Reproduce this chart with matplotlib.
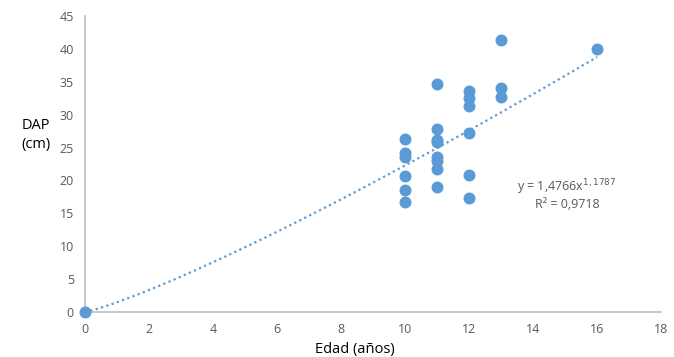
import matplotlib.pyplot as plt
import numpy as np

# datos
edad = [0, 10, 10, 10, 10, 10, 10,
        11, 11, 11, 11, 11, 11, 11, 11,
        12, 12, 12, 12, 12, 12,
        13, 13, 13, 16]
dap = [0, 26.3, 24.2, 23.6, 20.7, 18.5, 16.7,
       34.6, 27.9, 26.2, 25.8, 23.5, 23.0, 21.7, 19.0,
       33.6, 32.5, 31.3, 27.2, 20.8, 17.4,
       41.3, 34.0, 32.7, 40.0]

coef_a = 1.4766
coef_b = 1.1787

azul = '#5B9BD5'
gris = '#595959'

plt.rcParams['font.family'] = ['Open Sans', 'DejaVu Sans']

fig = plt.figure(figsize=(6.74, 3.57), dpi=100)
ax = fig.add_axes([0.126, 0.126, 0.855, 0.829])

# linea de tendencia potencial
xt = np.linspace(0, max(edad), 200)
ax.plot(xt, coef_a * xt**coef_b, color=azul, linestyle=(0, (1, 1.5)), linewidth=1.6)

ax.scatter(edad, dap, s=58, color=azul, zorder=3, clip_on=False)

ax.set_xlim(0, 18)
ax.set_ylim(0, 45)
ax.set_xticks(range(0, 19, 2))
ax.set_yticks(range(0, 46, 5))

for s in ['top', 'right']:
    ax.spines[s].set_visible(False)
for s in ['left', 'bottom']:
    ax.spines[s].set_color('#BFBFBF')
    ax.spines[s].set_linewidth(1.2)

ax.tick_params(length=0, labelsize=9, colors=gris, pad=8)

fig.text(567 / 674, 1 - 187 / 357, 'y = 1,4766x$^{1,1787}$', fontsize=9, color=gris,
         ha='center', va='center')
fig.text(567 / 674, 1 - 204 / 357, 'R² = 0,9718', fontsize=9, color=gris,
         ha='center', va='center')

fig.text(36 / 674, 1 - 135 / 357, 'DAP\n(cm)', fontsize=10.5, color='black',
         ha='center', va='center', linespacing=1.4)
fig.text(355 / 674, 1 - 349 / 357, 'Edad (años)', fontsize=10.5, color='black',
         ha='center', va='center')

fig.savefig('out.png', dpi=100)
